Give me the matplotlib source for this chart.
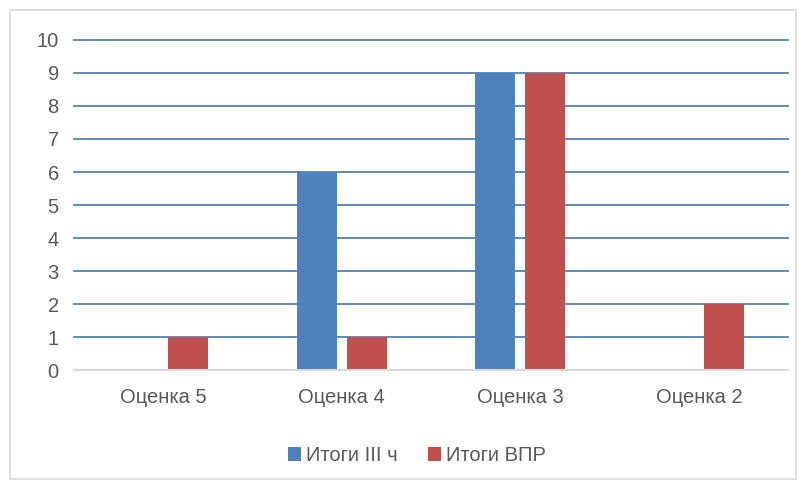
import matplotlib.pyplot as plt
import matplotlib.patches as patches
import numpy as np

categories = ['Оценка 5', 'Оценка 4', 'Оценка 3', 'Оценка 2']
itogi_iii = [0, 6, 9, 0]
itogi_vpr = [1, 1, 9, 2]
series_names = ['Итоги III ч', 'Итоги ВПР']

plt.rcParams['font.family'] = ['Liberation Sans', 'DejaVu Sans']
text_color = '#595959'

fig = plt.figure(figsize=(8.05, 4.87), dpi=100)
ax = fig.add_axes([0.092, 0.240, 0.887, 0.678])

x = np.arange(len(categories))
w = 0.224
off = 0.14
ax.bar(x - off, itogi_iii, w, color='#4F81BD', label=series_names[0], zorder=3)
ax.bar(x + off, itogi_vpr, w, color='#C0504D', label=series_names[1], zorder=3)

ax.set_xlim(-0.5, len(categories) - 0.5)
ax.set_ylim(0, 10)
ax.set_yticks(range(0, 11))
ax.set_xticks(x)
ax.set_xticklabels(categories)
ax.yaxis.grid(True, color='#4F81BD', linewidth=1.3, zorder=0)
for gl in ax.get_ygridlines():
    gl.set_clip_on(False)
ax.tick_params(axis='both', length=0, labelsize=14.5, labelcolor=text_color)
ax.tick_params(axis='x', pad=13)
ax.tick_params(axis='y', pad=11)
for s in ['top', 'right', 'left']:
    ax.spines[s].set_visible(False)
ax.spines['bottom'].set_color('#D9D9D9')
ax.spines['bottom'].set_linewidth(1.5)
ax.spines['bottom'].set_zorder(4)

leg = fig.legend(loc='center', bbox_to_anchor=(0.518, 0.065), ncol=2, frameon=False,
                 fontsize=14.5, handlelength=0.65, handleheight=0.7, handletextpad=0.25,
                 columnspacing=1.5)
for t in leg.get_texts():
    t.set_color(text_color)

border = patches.Rectangle((10 / 805, 8 / 487), 786 / 805, 469 / 487, transform=fig.transFigure,
                           fill=False, edgecolor='#D9D9D9', linewidth=1.2)
fig.patches.append(border)

fig.savefig('out.png', dpi=100)
